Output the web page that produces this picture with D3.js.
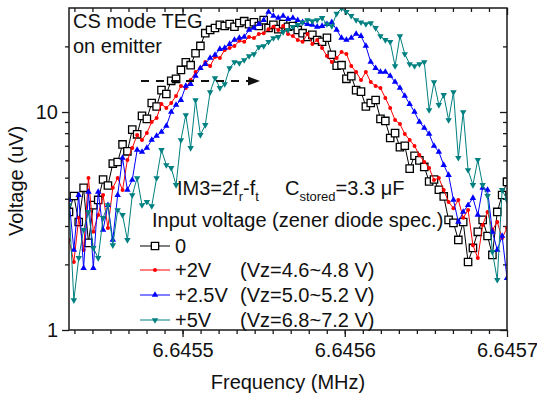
<!DOCTYPE html>
<html>
<head>
<meta charset="utf-8">
<script src="https://cdn.jsdelivr.net/npm/d3@7"></script>
<style>
  body { margin: 0; background: #fff; }
  svg { display: block; font-family: "Liberation Sans", Arial, sans-serif; }
</style>
</head>
<body>
<svg id="chart" width="537" height="397"></svg>
<script>
// ── data ─────────────────────────────────────────────────────────
// frequency sweep (MHz), shared by all four traces
const freq = [
  6.645430, 6.645433, 6.645436, 6.645439, 6.645442, 6.645445, 6.645448, 6.645451, 6.645454, 6.645457,
  6.645460, 6.645463, 6.645466, 6.645469, 6.645472, 6.645475, 6.645478, 6.645481, 6.645484, 6.645487,
  6.645490, 6.645493, 6.645496, 6.645499, 6.645502, 6.645505, 6.645508, 6.645511, 6.645514, 6.645517,
  6.645520, 6.645523, 6.645526, 6.645529, 6.645532, 6.645535, 6.645538, 6.645541, 6.645544, 6.645547,
  6.645550, 6.645553, 6.645556, 6.645559, 6.645562, 6.645565, 6.645568, 6.645571, 6.645574, 6.645577,
  6.645580, 6.645583, 6.645586, 6.645589, 6.645592, 6.645595, 6.645598, 6.645601, 6.645604, 6.645607,
  6.645610, 6.645613, 6.645616, 6.645619, 6.645622, 6.645625, 6.645628, 6.645631, 6.645634, 6.645637,
  6.645640, 6.645643, 6.645646, 6.645649, 6.645652, 6.645655, 6.645658, 6.645661, 6.645664, 6.645667,
  6.645670, 6.645673, 6.645676, 6.645679, 6.645682, 6.645685, 6.645688, 6.645691, 6.645694, 6.645697,
  6.645700
];

// voltage (uV) for input 0
const volt0 = [
  3.48, 4.12, 3.13, 4.49, 2.51, 3.74, 3.95, 4.9, 4.6, 5.8,
  5.9, 7.1, 6.6, 8.3, 7.9, 9.6, 9.3, 11.0, 10.6, 12.6,
  12.1, 13.9, 14.2, 15.6, 16.9, 16.4, 18.6, 20.1, 23.0, 23.8,
  24.3, 25.1, 24.8, 25.3, 24.6, 25.6, 26.1, 25.3, 25.8, 24.8,
  26.4, 24.3, 25.1, 24.0, 25.3, 24.6, 24.8, 23.8, 23.0, 22.1,
  22.6, 21.4, 21.0, 21.9, 18.3, 16.3, 16.4, 14.2, 14.6, 12.6,
  12.4, 10.6, 11.0, 11.35, 9.3, 9.1, 7.6, 8.0, 6.9, 7.0,
  5.5, 6.3, 6.0, 5.6, 4.8, 4.9, 4.4, 4.1, 3.2, 3.1,
  2.59, 3.13, 2.05, 2.38, 2.82, 3.2, 2.7, 2.21, 3.48, 4.16,
  4.78
];

// +2V
const volt2 = [
  2.59, 2.05, 3.27, 2.33, 4.98, 2.82, 3.37, 4.16, 2.94, 4.49,
  4.98, 4.39, 6.03, 6.84, 7.85, 7.44, 8.02, 9.0, 9.39, 10.88,
  10.43, 11.0, 11.85, 13.16, 12.89, 14.02, 15.26, 15.9, 16.96, 16.25,
  17.9, 17.7, 19.25, 19.66, 20.08, 21.2, 21.0, 22.1, 21.85, 22.8,
  23.0, 24.0, 24.6, 23.8, 24.8, 22.8, 22.3, 21.4, 21.0, 22.8,
  20.5, 21.4, 19.66, 18.06, 16.96, 17.7, 18.85, 18.45, 16.25, 15.26,
  14.02, 15.26, 13.73, 13.16, 12.89, 11.6, 10.43, 9.19, 8.81, 7.93,
  7.44, 6.99, 6.35, 5.9, 5.54, 4.88, 4.98, 4.39, 3.87, 3.62,
  3.95, 3.27, 3.55, 2.45, 2.14, 3.03, 3.48, 2.88, 3.13, 2.64,
  2.94
];

// +2.5V
const volt25 = [
  3.95, 2.33, 4.16, 1.92, 4.30, 1.92, 4.30, 2.88, 3.74, 2.59,
  4.16, 6.16, 4.39, 4.88, 6.70, 6.56, 6.84, 7.44, 7.77, 8.1,
  8.63, 10.0, 10.77, 11.35, 13.16, 13.44, 14.63, 15.9, 16.6, 17.7,
  18.26, 19.45, 19.66, 20.5, 21.4, 21.85, 22.1, 23.8, 24.3, 25.3,
  26.4, 28.8, 27.6, 27.0, 27.6, 26.7, 27.0, 26.4, 25.8, 25.3,
  25.1, 24.6, 24.8, 25.3, 25.8, 23.8, 21.85, 21.4, 21.85, 22.8,
  22.3, 20.08, 16.96, 15.9, 15.26, 15.26, 14.63, 13.73, 12.89, 11.85,
  10.88, 10.0, 9.0, 8.45, 7.93, 6.99, 6.56, 5.71, 5.14, 3.95,
  3.13, 3.48, 3.74, 4.03, 3.37, 4.49, 4.39, 2.82, 2.33, 2.7,
  1.73
];

// +5V
const volt5 = [
  3.74, 1.37, 2.14, 2.88, 3.48, 2.38, 2.14, 3.27, 3.74, 2.45,
  3.55, 3.37, 2.59, 4.16, 4.98, 3.74, 3.87, 3.70, 4.98, 6.70,
  5.71, 5.54, 4.63, 7.44, 9.69, 6.84, 11.35, 7.85, 8.72, 12.35,
  14.32, 12.89, 13.44, 15.9, 16.96, 16.78, 17.32, 18.06, 18.45, 19.86,
  20.08, 21.0, 21.85, 22.1, 23.3, 23.8, 24.6, 25.1, 25.8, 26.4,
  26.1, 26.4, 27.0, 25.3, 24.8, 28.3, 29.9, 28.8, 27.6, 26.4,
  25.8, 25.3, 25.6, 24.3, 22.3, 21.4, 21.0, 16.25, 22.3, 18.45,
  16.6, 16.25, 16.6, 16.96, 10.21, 13.73, 10.77, 11.97, 9.19, 12.35,
  6.16, 10.0, 5.42, 4.63, 6.03, 4.63, 4.12, 2.28, 1.70, 4.39,
  3.95
];

const xTickValues = [6.6455, 6.6456, 6.6457];
const yTickValues = [1, 10];
const yMinorValues = [2, 3, 4, 5, 6, 7, 8, 9, 20];
const seriesNames = ["0", "+2V", "+2.5V", "+5V"];
const seriesSpecs = ["", "(Vz=4.6~4.8 V)", "(Vz=5.0~5.2 V)", "(Vz=6.8~7.2 V)"];

// ── layout ───────────────────────────────────────────────────────
const svg = d3.select("#chart");
const plotL = 69, plotR = 507, plotT = 8, plotB = 330;
const axisColor = "#1a1a1a";

const x = d3.scaleLinear().domain([6.64543, 6.6457]).range([plotL, plotR]);
const y = d3.scaleLog().domain([1, 30]).range([plotB, plotT]);

// minor x ticks: 9 subdivisions per 0.0001
const xMinorValues = d3.range(-6, 19)
  .map(k => 6.6455 + k * 0.0001 / 9)
  .filter(v => v >= 6.64543 && v <= 6.6457);

const series = [
  { vals: volt0,  color: "#000000", marker: "square" },
  { vals: volt2,  color: "#ff0000", marker: "circle" },
  { vals: volt25, color: "#0000ff", marker: "up" },
  { vals: volt5,  color: "#008080", marker: "down" }
];

// 1) clip for data
svg.append("clipPath").attr("id", "plotClip")
  .append("rect")
  .attr("x", plotL).attr("y", plotT)
  .attr("width", plotR - plotL).attr("height", plotB - plotT);

// 2) axes
function styleAxis(g) {
  g.select(".domain").remove();
  g.selectAll("line").attr("stroke", axisColor).attr("stroke-width", 1.3);
  g.selectAll("text").attr("font-size", 20).attr("fill", "#111")
    .attr("font-family", "'Liberation Sans', Arial, sans-serif");
}

svg.append("g").attr("transform", `translate(0,${plotB})`)
  .call(d3.axisBottom(x).tickValues(xTickValues).tickFormat(d3.format(".4f"))
    .tickSize(7).tickPadding(6))
  .call(styleAxis);
svg.append("g").attr("transform", `translate(0,${plotB})`)
  .call(d3.axisBottom(x).tickValues(xMinorValues).tickFormat("").tickSize(4))
  .call(styleAxis);

svg.append("g").attr("transform", `translate(0,${plotT})`)
  .call(d3.axisTop(x).tickValues(xTickValues).tickFormat("").tickSize(-7))
  .call(styleAxis);
svg.append("g").attr("transform", `translate(0,${plotT})`)
  .call(d3.axisTop(x).tickValues(xMinorValues).tickFormat("").tickSize(-4))
  .call(styleAxis);

svg.append("g").attr("transform", `translate(${plotL},0)`)
  .call(d3.axisLeft(y).tickValues(yTickValues).tickFormat(d3.format("d"))
    .tickSize(7).tickPadding(4))
  .call(styleAxis);
svg.append("g").attr("transform", `translate(${plotL},0)`)
  .call(d3.axisLeft(y).tickValues(yMinorValues).tickFormat("").tickSize(4))
  .call(styleAxis);

svg.append("g").attr("transform", `translate(${plotR},0)`)
  .call(d3.axisRight(y).tickValues(yTickValues).tickFormat("").tickSize(-7))
  .call(styleAxis);
svg.append("g").attr("transform", `translate(${plotR},0)`)
  .call(d3.axisRight(y).tickValues(yMinorValues).tickFormat("").tickSize(-4))
  .call(styleAxis);

// 3) data traces
const markerPath = {
  square: d3.symbol().type(d3.symbolSquare).size(54)(),
  up: d3.symbol().type(d3.symbolTriangle).size(18)()
};

const plot = svg.append("g").attr("clip-path", "url(#plotClip)");
const line = d3.line().x(d => x(d.f)).y(d => y(d.v));

function drawMarkers(g, pts, s) {
  if (s.marker === "circle") {
    g.selectAll("circle").data(pts).enter().append("circle")
      .attr("cx", d => d.px).attr("cy", d => d.py).attr("r", 2)
      .attr("fill", s.color);
  } else if (s.marker === "square") {
    g.selectAll("path.m").data(pts).enter().append("path")
      .attr("class", "m")
      .attr("d", markerPath.square)
      .attr("transform", d => `translate(${d.px},${d.py})`)
      .attr("fill", "#fff").attr("stroke", s.color).attr("stroke-width", 1.3);
  } else {
    const rot = s.marker === "down" ? 180 : 0;
    g.selectAll("path.m").data(pts).enter().append("path")
      .attr("class", "m")
      .attr("d", markerPath.up)
      .attr("transform", d => `translate(${d.px},${d.py}) rotate(${rot})`)
      .attr("fill", s.color);
  }
}

series.forEach(s => {
  const pts = freq.map((f, i) => ({ f, v: s.vals[i] }));
  pts.forEach(d => { d.px = x(d.f); d.py = y(d.v); });
  const g = plot.append("g");
  g.append("path").datum(pts)
    .attr("d", line)
    .attr("fill", "none").attr("stroke", s.color).attr("stroke-width", 1);
  drawMarkers(g, pts, s);
});

// 4) frame
svg.append("rect")
  .attr("x", plotL).attr("y", plotT)
  .attr("width", plotR - plotL).attr("height", plotB - plotT)
  .attr("fill", "none").attr("stroke", axisColor).attr("stroke-width", 1.5);

// 5) annotations
const txt = (xp, yp, s) => svg.append("text")
  .attr("x", xp).attr("y", yp).attr("font-size", 20).attr("fill", "#111").text(s);

txt(73, 28, "CS mode TEG");
txt(73, 53, "on emitter");

// dashed arrow
svg.append("line")
  .attr("x1", 141).attr("y1", 81).attr("x2", 250).attr("y2", 81)
  .attr("stroke", "#111").attr("stroke-width", 1.8)
  .attr("stroke-dasharray", "8,7");
svg.append("path")
  .attr("d", "M248,76.5 L260,81 L248,85.5 Z")
  .attr("fill", "#111");

// IM3 = 2f_r - f_t
const im3 = svg.append("text").attr("x", 177).attr("y", 195)
  .attr("font-size", 20).attr("fill", "#111");
im3.append("tspan").text("IM3=2f");
im3.append("tspan").attr("font-size", 13).attr("dy", 6).text("r");
im3.append("tspan").attr("dy", -6).text("-f");
im3.append("tspan").attr("font-size", 13).attr("dy", 6).text("t");

const cs = svg.append("text").attr("x", 285).attr("y", 195)
  .attr("font-size", 20).attr("fill", "#111");
cs.append("tspan").text("C");
cs.append("tspan").attr("font-size", 13).attr("dy", 6).text("stored");
cs.append("tspan").attr("dy", -6).text("=3.3 μF");

txt(152, 227, "Input voltage (zener diode spec.)");

// 6) legend
const legendY = [246, 270, 295, 320];
series.forEach((s, i) => {
  const ly = legendY[i];
  const g = svg.append("g");
  g.append("line")
    .attr("x1", 140).attr("x2", 170).attr("y1", ly).attr("y2", ly)
    .attr("stroke", s.color).attr("stroke-width", 1);
  drawMarkers(g, [{ px: 155, py: ly }], s);
  txt(175, ly + 7, seriesNames[i]);
  if (seriesSpecs[i]) txt(240, ly + 7, seriesSpecs[i]);
});

// 7) axis titles
svg.append("text")
  .attr("x", 288).attr("y", 389).attr("text-anchor", "middle")
  .attr("font-size", 20).attr("fill", "#111")
  .text("Frequency (MHz)");
svg.append("text")
  .attr("transform", "translate(23,181) rotate(-90)")
  .attr("text-anchor", "middle")
  .attr("font-size", 20).attr("fill", "#111")
  .text("Voltage (uV)");
</script>
</body>
</html>
